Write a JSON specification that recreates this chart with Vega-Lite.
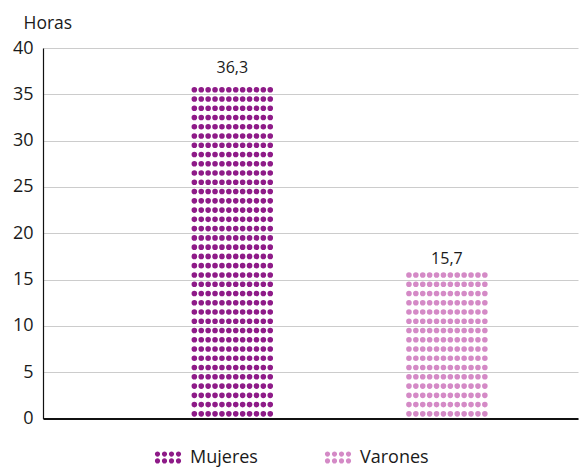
{
  "$schema": "https://vega.github.io/schema/vega-lite/v6.json",
  "width": 535,
  "height": 370.5,
  "autosize": {"type": "none"},
  "padding": {"left": 43, "top": 48, "right": 1, "bottom": 49.5},
  "background": "white",
  "config": {
    "view": {"stroke": null},
    "font": "Open Sans",
    "axis": {"labelFont": "Open Sans", "titleFont": "Open Sans"},
    "legend": {"labelFont": "Open Sans"}
  },
  "data": {
    "values": [
      {"sexo": "Mujeres", "base": 0, "horas": 36.3, "etiqueta": "36,3"},
      {"sexo": "Varones", "base": 0, "horas": 15.7, "etiqueta": "15,7"}
    ]
  },
  "encoding": {
    "x": {
      "field": "sexo",
      "type": "nominal",
      "sort": ["Mujeres", "Varones"],
      "scale": {"paddingInner": 0, "paddingOuter": 0.2465, "align": 0.775},
      "axis": {"title": null, "labels": false, "ticks": false, "domain": true, "domainColor": "#111111", "domainWidth": 2, "grid": false}
    },
    "y": {"field": "base", "type": "quantitative", "scale": {"domain": [0, 40], "nice": false},
          "axis": {"title": "Horas", "titleAngle": 0, "titleAlign": "left", "titleBaseline": "middle", "titleX": -20, "titleY": -24.5, "titleFontSize": 17.5, "titleFontWeight": "normal", "titleColor": "#1a1a1a",
                   "values": [0, 5, 10, 15, 20, 25, 30, 35, 40], "ticks": false, "labelPadding": 10, "labelFontSize": 18, "labelColor": "#1a1a1a",
                   "domainColor": "#111111", "domainWidth": 1.2, "gridColor": "#cccccc", "gridWidth": 1}},
    "y2": {"field": "horas"},
    "color": {"field": "sexo", "type": "nominal", "sort": ["Mujeres", "Varones"],
              "scale": {"domain": ["Mujeres", "Varones"], "range": ["#8e1b88", "#d48ac6"]},
              "legend": {"title": null, "orient": "none", "direction": "horizontal", "legendX": 112, "legendY": 396.5, "padding": 0,
                         "symbolType": "M-1.008,-0.262A0.2,0.2,0,1,0,-0.608,-0.262A0.2,0.2,0,1,0,-1.008,-0.262ZM-0.469,-0.262A0.2,0.2,0,1,0,-0.069,-0.262A0.2,0.2,0,1,0,-0.469,-0.262ZM0.069,-0.262A0.2,0.2,0,1,0,0.469,-0.262A0.2,0.2,0,1,0,0.069,-0.262ZM0.608,-0.262A0.2,0.2,0,1,0,1.008,-0.262A0.2,0.2,0,1,0,0.608,-0.262ZM-1.008,0.262A0.2,0.2,0,1,0,-0.608,0.262A0.2,0.2,0,1,0,-1.008,0.262ZM-0.469,0.262A0.2,0.2,0,1,0,-0.069,0.262A0.2,0.2,0,1,0,-0.469,0.262ZM0.069,0.262A0.2,0.2,0,1,0,0.469,0.262A0.2,0.2,0,1,0,0.069,0.262ZM0.608,0.262A0.2,0.2,0,1,0,1.008,0.262A0.2,0.2,0,1,0,0.608,0.262Z",
                         "symbolSize": 676, "symbolStrokeWidth": 0, "labelOffset": 9, "labelFontSize": 18, "labelColor": "#1a1a1a", "columnPadding": 66,
                         "encode": {"symbols": {"update": {"fill": {"scale": "color", "field": "value"}, "fillOpacity": {"value": 1}, "strokeWidth": {"value": 0}}}}}}
  },
  "layer": [
    {"mark": {"type": "rule", "xOffset": -37.95, "strokeWidth": 5.6, "strokeCap": "round", "strokeDash": [0, 9.2625], "strokeDashOffset": 4.631}},
    {"mark": {"type": "rule", "xOffset": -31.05, "strokeWidth": 5.6, "strokeCap": "round", "strokeDash": [0, 9.2625], "strokeDashOffset": 4.631}},
    {"mark": {"type": "rule", "xOffset": -24.15, "strokeWidth": 5.6, "strokeCap": "round", "strokeDash": [0, 9.2625], "strokeDashOffset": 4.631}},
    {"mark": {"type": "rule", "xOffset": -17.25, "strokeWidth": 5.6, "strokeCap": "round", "strokeDash": [0, 9.2625], "strokeDashOffset": 4.631}},
    {"mark": {"type": "rule", "xOffset": -10.35, "strokeWidth": 5.6, "strokeCap": "round", "strokeDash": [0, 9.2625], "strokeDashOffset": 4.631}},
    {"mark": {"type": "rule", "xOffset": -3.45, "strokeWidth": 5.6, "strokeCap": "round", "strokeDash": [0, 9.2625], "strokeDashOffset": 4.631}},
    {"mark": {"type": "rule", "xOffset": 3.45, "strokeWidth": 5.6, "strokeCap": "round", "strokeDash": [0, 9.2625], "strokeDashOffset": 4.631}},
    {"mark": {"type": "rule", "xOffset": 10.35, "strokeWidth": 5.6, "strokeCap": "round", "strokeDash": [0, 9.2625], "strokeDashOffset": 4.631}},
    {"mark": {"type": "rule", "xOffset": 17.25, "strokeWidth": 5.6, "strokeCap": "round", "strokeDash": [0, 9.2625], "strokeDashOffset": 4.631}},
    {"mark": {"type": "rule", "xOffset": 24.15, "strokeWidth": 5.6, "strokeCap": "round", "strokeDash": [0, 9.2625], "strokeDashOffset": 4.631}},
    {"mark": {"type": "rule", "xOffset": 31.05, "strokeWidth": 5.6, "strokeCap": "round", "strokeDash": [0, 9.2625], "strokeDashOffset": 4.631}},
    {"mark": {"type": "rule", "xOffset": 37.95, "strokeWidth": 5.6, "strokeCap": "round", "strokeDash": [0, 9.2625], "strokeDashOffset": 4.631}},
    {"mark": {"type": "text", "baseline": "bottom", "align": "center", "dy": -6, "fontSize": 16, "color": "#1a1a1a"},
     "encoding": {"y": {"field": "horas", "type": "quantitative"}, "y2": null, "color": null, "text": {"field": "etiqueta"}}}
  ]
}
